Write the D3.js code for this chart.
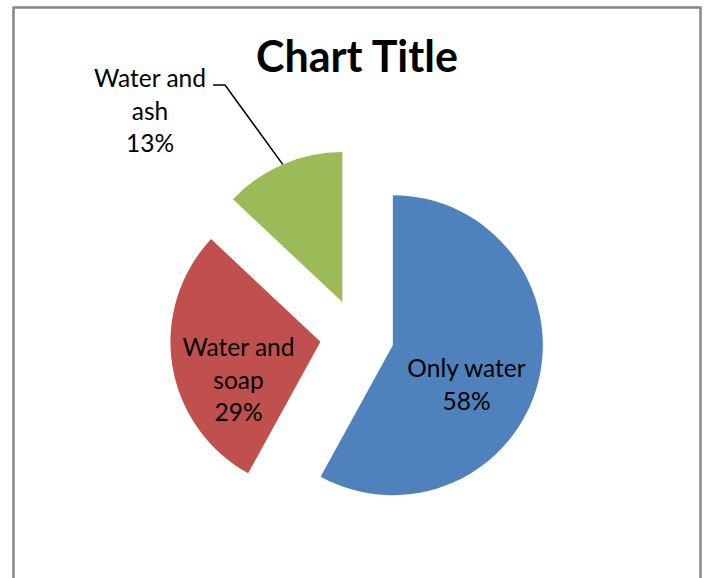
<!DOCTYPE html>
<html>
<head>
<meta charset="utf-8">
<script src="https://cdn.jsdelivr.net/npm/d3@7"></script>
<style>
  html, body { margin: 0; padding: 0; background: #fff; }
  svg { display: block; }
  text { font-family: Lato, "Open Sans", sans-serif; fill: #000; }
</style>
</head>
<body>
<svg id="chart" width="708" height="578"></svg>
<script>
// ---- data ----
const categories = ["Only water", "Water and soap", "Water and ash"];
const values = [58, 29, 13];
const colors = ["#4F81BD", "#C0504D", "#9BBB59"];
const title = "Chart Title";

// ---- layout ----
const W = 708, H = 578;
const cx = 357, cy = 336, radius = 150, explode = 37;
const lineH = 32.5;
// label text lines and anchors (label box centre x, first baseline y)
const labelLayout = [
  { lines: ["Only water", "58%"], x: 466.5, y: 377, outside: false },
  { lines: ["Water and", "soap", "29%"], x: 238.5, y: 356, outside: false },
  { lines: ["Water and", "ash", "13%"], x: 150, y: 87, outside: true, leaderX: 213, leaderY: 85, elbow: 12 }
];

const svg = d3.select("#chart");

// chart border
svg.append("rect")
  .attr("x", 13.5).attr("y", 7.5)
  .attr("width", 687).attr("height", 580)
  .attr("fill", "#fff")
  .attr("stroke", "#878787").attr("stroke-width", 2.5);

// title
svg.append("text")
  .attr("x", 357).attr("y", 72)
  .attr("text-anchor", "middle")
  .style("font-size", "43px").style("font-weight", "bold")
  .text(title);

const pie = d3.pie().sort(null).value(d => d)(values);
const arc = d3.arc().innerRadius(0).outerRadius(radius);

const g = svg.append("g");
pie.forEach((p, i) => {
  const mid = (p.startAngle + p.endAngle) / 2;
  const ox = cx + explode * Math.sin(mid);
  const oy = cy - explode * Math.cos(mid);
  g.append("path")
    .attr("d", arc(p))
    .attr("transform", `translate(${ox},${oy})`)
    .attr("fill", colors[i]);

  const L = labelLayout[i];
  const t = svg.append("text")
    .attr("text-anchor", "middle")
    .style("font-size", "24.5px");
  L.lines.forEach((ln, k) => {
    t.append("tspan").attr("x", L.x).attr("y", L.y + k * lineH).text(ln);
  });
  if (L.outside) {
    const ex = ox + radius * Math.sin(mid);
    const ey = oy - radius * Math.cos(mid);
    svg.append("path")
      .attr("d", d3.line()([[L.leaderX, L.leaderY], [L.leaderX + L.elbow, L.leaderY], [ex, ey]]))
      .attr("fill", "none").attr("stroke", "#000").attr("stroke-width", 1.5);
  }
});
</script>
</body>
</html>
